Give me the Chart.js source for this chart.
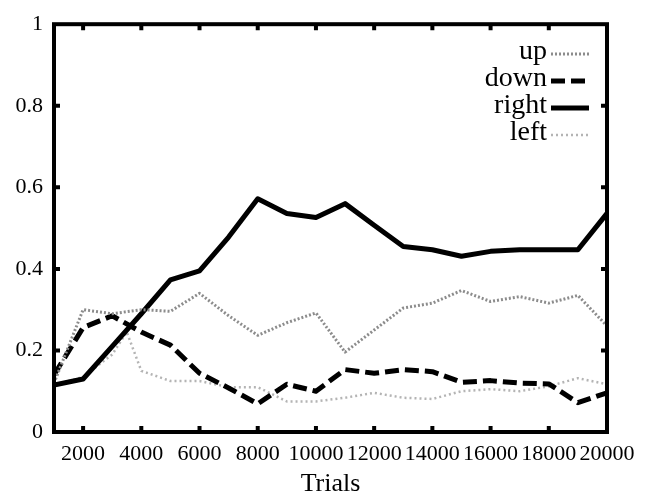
<!DOCTYPE html>
<html lang="en">
<head>
    <meta charset="UTF-8">
    <title>Trials</title>
    <script src="https://cdn.jsdelivr.net/npm/chart.js"></script>
    <style>
        body {
            margin: 0;
            background: #fff;
        }
        canvas {
            display: block;
        }
    </style>
</head>
<body>
    <canvas id="trialsChart" width="648" height="502"></canvas>

    <script>
        // sampled every 1000 trials
        const trials = [1000, 2000, 3000, 4000, 5000, 6000, 7000, 8000, 9000, 10000,
                        11000, 12000, 13000, 14000, 15000, 16000, 17000, 18000, 19000, 20000];
        const upValues = [0.12, 0.30, 0.29, 0.30, 0.296, 0.34, 0.285, 0.237, 0.268, 0.292,
                          0.196, 0.25, 0.304, 0.316, 0.347, 0.32, 0.332, 0.316, 0.335, 0.26];
        const downValues = [0.14, 0.256, 0.285, 0.245, 0.213, 0.144, 0.108, 0.069, 0.117, 0.10,
                            0.153, 0.144, 0.153, 0.148, 0.122, 0.126, 0.12, 0.118, 0.072, 0.096];
        const rightValues = [0.115, 0.13, 0.21, 0.29, 0.373, 0.395, 0.478, 0.572, 0.536, 0.526,
                             0.56, 0.507, 0.455, 0.447, 0.431, 0.443, 0.447, 0.447, 0.447, 0.536];
        // "left" has an extra sample at 3500
        const leftTrials = [1000, 2000, 3000, 3500, 4000, 5000, 6000, 7000, 8000, 9000, 10000,
                            11000, 12000, 13000, 14000, 15000, 16000, 17000, 18000, 19000, 20000];
        const leftValues = [0.115, 0.135, 0.19, 0.245, 0.15, 0.125, 0.125, 0.11, 0.11, 0.075, 0.075,
                            0.084, 0.096, 0.084, 0.081, 0.10, 0.105, 0.10, 0.112, 0.132, 0.117];

        const xTicks = [2000, 4000, 6000, 8000, 10000, 12000, 14000, 16000, 18000, 20000];
        const yTicks = [0, 0.2, 0.4, 0.6, 0.8, 1];

        const serif = '"Liberation Serif", "Times New Roman", serif';

        function toPoints(xs, ys) {
            return xs.map((x, i) => ({ x: x, y: ys[i] }));
        }

        // box around the plot with inward ticks on every side
        const framePlugin = {
            id: 'frame',
            afterDatasetsDraw(chart) {
                const { ctx, chartArea: a, scales } = chart;
                ctx.save();
                ctx.strokeStyle = '#000';
                ctx.lineWidth = 4;
                ctx.setLineDash([]);
                ctx.strokeRect(a.left, a.top, a.right - a.left, a.bottom - a.top);
                const len = 6;
                xTicks.forEach(v => {
                    const px = scales.x.getPixelForValue(v);
                    if (px >= a.right - 2) return;
                    ctx.beginPath();
                    ctx.moveTo(px, a.bottom); ctx.lineTo(px, a.bottom - len);
                    ctx.moveTo(px, a.top); ctx.lineTo(px, a.top + len);
                    ctx.stroke();
                });
                yTicks.forEach(v => {
                    const py = scales.y.getPixelForValue(v);
                    if (py <= a.top + 2 || py >= a.bottom - 2) return;
                    ctx.beginPath();
                    ctx.moveTo(a.left, py); ctx.lineTo(a.left + len, py);
                    ctx.moveTo(a.right, py); ctx.lineTo(a.right - len, py);
                    ctx.stroke();
                });
                ctx.restore();
            }
        };

        // legend: right-aligned labels with the line sample after them
        const legendPlugin = {
            id: 'sideLegend',
            afterDraw(chart) {
                const { ctx } = chart;
                const textRight = 547;
                const sampleStart = 551, sampleEnd = 589;
                const rowY = [52, 79, 106, 133];
                ctx.save();
                ctx.font = '28px ' + serif;
                ctx.textAlign = 'right';
                ctx.textBaseline = 'middle';
                chart.data.datasets.forEach((ds, i) => {
                    const opts = chart.getDatasetMeta(i).dataset.options;
                    const y = rowY[i] + 2;
                    ctx.fillStyle = '#000';
                    ctx.fillText(ds.label, textRight, rowY[i]);
                    const dash = opts.borderDash || [];
                    if (dash.length === 0) {
                        ctx.fillStyle = opts.borderColor;
                        ctx.fillRect(sampleStart, y - opts.borderWidth / 2, sampleEnd - sampleStart, opts.borderWidth);
                        return;
                    }
                    ctx.beginPath();
                    ctx.strokeStyle = opts.borderColor;
                    ctx.lineWidth = opts.borderWidth;
                    ctx.setLineDash(dash);
                    ctx.moveTo(sampleStart, y);
                    ctx.lineTo(sampleEnd, y);
                    ctx.stroke();
                    ctx.setLineDash([]);
                });
                ctx.restore();
            }
        };

        new Chart(document.getElementById('trialsChart'), {
            type: 'line',
            data: {
                datasets: [{
                    label: 'up',
                    data: toPoints(trials, upValues),
                    borderColor: '#8c8c8c',
                    borderWidth: 3,
                    borderDash: [2, 2]
                }, {
                    label: 'down',
                    data: toPoints(trials, downValues),
                    borderColor: '#000',
                    borderWidth: 5,
                    borderDash: [14, 6]
                }, {
                    label: 'right',
                    data: toPoints(trials, rightValues),
                    borderColor: '#000',
                    borderWidth: 5,
                    borderDash: []
                }, {
                    label: 'left',
                    data: toPoints(leftTrials, leftValues),
                    borderColor: '#b4b4b4',
                    borderWidth: 2.5,
                    borderDash: [2, 3]
                }]
            },
            options: {
                responsive: false,
                animation: false,
                devicePixelRatio: 1,
                layout: { padding: { top: 14, right: 41, left: 0, bottom: 0 } },
                elements: {
                    point: { radius: 0 },
                    line: { tension: 0, borderCapStyle: 'butt', borderJoinStyle: 'round' }
                },
                plugins: {
                    legend: { display: false },
                    tooltip: { enabled: false }
                },
                scales: {
                    x: {
                        type: 'linear',
                        min: 1000,
                        max: 20000,
                        grid: { display: false, drawTicks: false },
                        border: { display: false },
                        afterBuildTicks: scale => { scale.ticks = xTicks.map(v => ({ value: v })); },
                        afterFit: scale => { scale.height = 70; },
                        ticks: {
                            autoSkip: false,
                            maxRotation: 0,
                            padding: 9,
                            color: '#000',
                            font: { family: serif, size: 22 },
                            callback: v => String(v)
                        },
                        title: {
                            display: true,
                            text: 'Trials',
                            color: '#000',
                            font: { family: serif, size: 26 },
                            padding: { top: 0, bottom: 2 }
                        }
                    },
                    y: {
                        min: 0,
                        max: 1,
                        grid: { display: false, drawTicks: false },
                        border: { display: false },
                        afterBuildTicks: scale => { scale.ticks = yTicks.map(v => ({ value: v })); },
                        afterFit: scale => { scale.width = 54; },
                        ticks: {
                            padding: 11,
                            color: '#000',
                            font: { family: serif, size: 22 },
                            callback: v => String(Math.round(v * 10) / 10)
                        }
                    }
                }
            },
            plugins: [framePlugin, legendPlugin]
        });
    </script>
</body>
</html>
